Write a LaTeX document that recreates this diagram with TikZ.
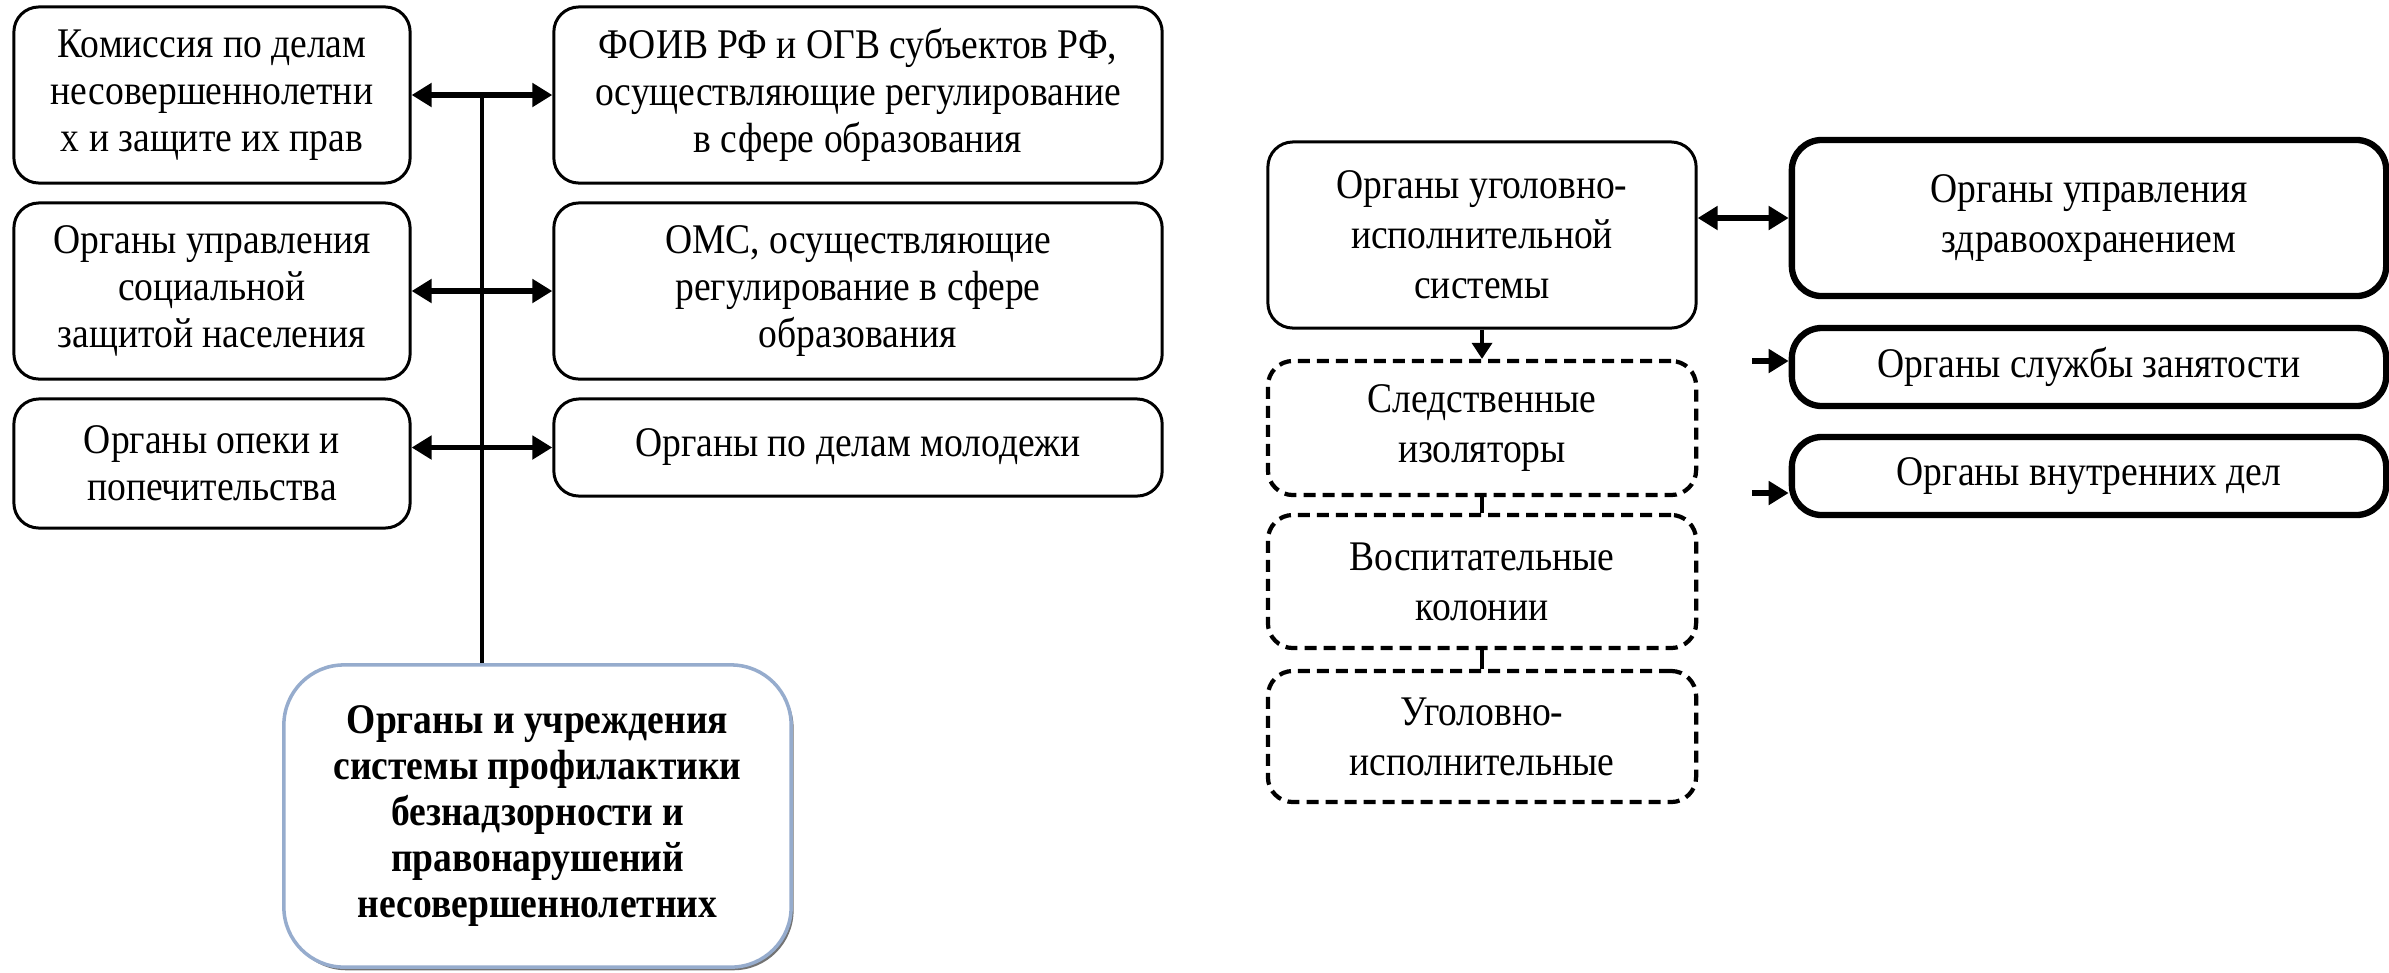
\documentclass[tikz,border=0pt]{standalone}
\usepackage{fontspec}
\setmainfont{Liberation Serif}[FakeStretch=0.89]
\usetikzlibrary{arrows.meta, positioning, shadows, calc}
\usepackage{xcolor}
\definecolor{frameblue}{RGB}{150,172,205}
\def\leftw{3.96cm}
\def\rightw{6.08cm}

\begin{document}
\begin{tikzpicture}[x=0.01cm, y=-0.01cm, font=\fontsize{12}{13.4}\selectfont]
    \tikzstyle{box}=[draw=black, line width=0.85pt, rounded corners=0.25cm, align=center, inner sep=0pt]
    \tikzstyle{left box}=[box, minimum width=\leftw]
    \tikzstyle{right box}=[box, minimum width=\rightw]
    \tikzstyle{core box}=[box, draw=frameblue, line width=1pt, rounded corners=0.6cm, font=\fontsize{12}{13.1}\selectfont\bfseries, fill=white, drop shadow={shadow xshift=0.7pt, shadow yshift=-0.9pt, fill=black!55, opacity=1}]
    \tikzstyle{uis box}=[box, minimum width=4.28cm, font=\fontsize{12}{14.2}\selectfont]
    \tikzstyle{dash box}=[uis box, line width=1.2pt, dash pattern=on 0.12cm off 0.07cm]
    \tikzstyle{thick box}=[box, line width=1.8pt, minimum width=5.94cm, rounded corners=0.3cm, font=\fontsize{12}{14.2}\selectfont]
    \tikzstyle{biarrow}=[{Triangle[length=2mm,width=2.3mm]}-{Triangle[length=2mm,width=2.3mm]}, line width=1.5pt]
    \tikzstyle{arrow}=[-{Triangle[length=2mm,width=2.3mm]}, line width=1.5pt]
    \tikzstyle{link}=[line width=0.9pt]

    \useasboundingbox (0,0) rectangle (2389,972);

%   left part
    \node[left box, minimum height=1.76cm] (A) at (212,95) {Комиссия по делам\\несовершеннолетни\\х и защите их прав};
    \node[right box, minimum height=1.76cm] (B) at (858,95) {ФОИВ РФ и ОГВ субъектов РФ,\\осуществляющие регулирование\\в сфере образования};
    \node[left box, minimum height=1.76cm] (C) at (212,291) {Органы управления\\социальной\\защитой населения};
    \node[right box, minimum height=1.76cm] (D) at (858,291) {ОМС, осуществляющие\\регулирование в сфере\\образования};
    \node[left box, minimum height=1.29cm] (E) at (212,463.5) {Органы опеки и\\попечительства};
    \node[right box, minimum height=0.97cm] (F) at (858,447.5) {Органы по делам молодежи};

    \node[core box, minimum width=5.07cm, minimum height=3.02cm] (N) at (537.5,816) {Органы и учреждения\\системы профилактики\\безнадзорности и\\правонарушений\\несовершеннолетних};

    \draw[biarrow] (A) -- (B);
    \draw[biarrow] (C) -- (D);
    \draw[biarrow] (E.east |- F.west) -- (F.west);
    \coordinate (hub) at ($(A.east)!0.5!(B.west)$);
    \draw[link] (hub) -- (hub |- N.north);

%   right part
    \node[uis box, minimum height=1.86cm] (G) at (1482,235) {Органы уголовно-\\исполнительной\\системы};
    \node[thick box, minimum height=1.56cm] (H) at (2089,218) {Органы управления\\здравоохранением};
    \node[dash box, minimum height=1.34cm] (I) at (1482,428) {Следственные\\изоляторы};
    \node[dash box, minimum height=1.33cm] (J) at (1482,581.5) {Воспитательные\\колонии};
    \node[dash box, minimum height=1.31cm] (K) at (1482,736.5) {Уголовно-\\исполнительные};
    \node[thick box, minimum height=0.78cm] (L) at (2089,367) {Органы службы занятости};
    \node[thick box, minimum height=0.78cm] (M) at (2089,476) {Органы внутренних дел};

    \draw[biarrow] (G.east |- H.west) -- (H.west);
    \draw[-{Triangle[length=1.6mm,width=2mm]}, line width=1pt] (G) -- (I);
    \draw[link, line width=1.1pt] (I) -- (J);
    \draw[link, line width=1.1pt] (J) -- (K);

    \coordinate (L-in) at (1752,361);
    \coordinate (M-in) at (1752,493);
    \draw[arrow] (L-in) -- (L-in -| L.west);
    \draw[arrow] (M-in) -- (M-in -| M.west);
\end{tikzpicture}
\end{document}
